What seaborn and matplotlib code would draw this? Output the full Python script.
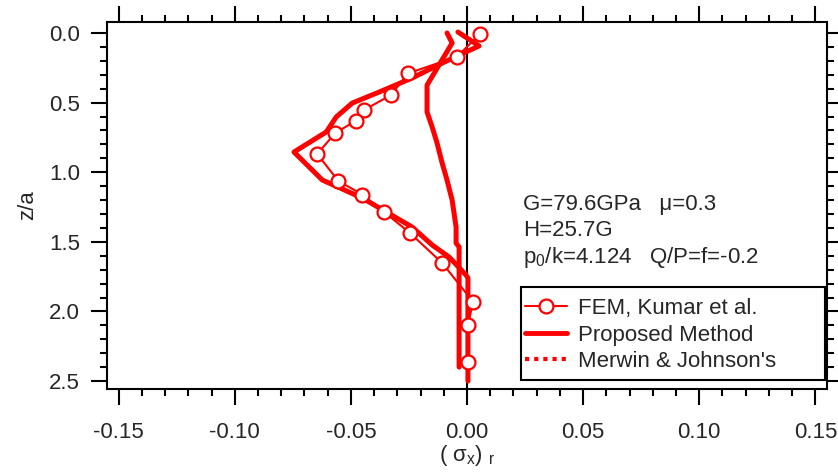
import matplotlib
matplotlib.use("Agg")
import matplotlib.pyplot as plt
from matplotlib.lines import Line2D
from matplotlib.patches import Rectangle
from matplotlib.ticker import MultipleLocator
import seaborn as sns
import pandas as pd

# ---- data ----
fem_x = [0.0056, -0.0043, -0.0254, -0.0327, -0.0443, -0.0480, -0.0567, -0.0645,
         -0.0554, -0.0451, -0.0357, -0.0245, -0.0107, 0.0026, 0.0004, 0.0004]
fem_z = [0.007, 0.17, 0.29, 0.445, 0.553, 0.632, 0.718, 0.869,
         1.063, 1.16, 1.286, 1.437, 1.652, 1.93, 2.10, 2.36]

prop_x = [-0.0039, 0.0052, -0.0107, -0.0236, -0.0378, -0.0494, -0.0563, -0.0606,
          -0.0745, -0.0623, -0.0451, -0.0236, -0.0150, -0.0077, -0.0004, 0.0004, 0.0004]
prop_z = [-0.007, 0.093, 0.216, 0.323, 0.424, 0.503, 0.603, 0.711,
          0.855, 1.056, 1.185, 1.394, 1.523, 1.609, 1.739, 1.76, 2.50]

mj_x = [-0.0086, -0.0064, -0.0172, -0.0172, -0.0150, -0.0129, -0.0107, -0.0086,
        -0.0064, -0.0047, -0.0047, -0.0034, -0.0034]
mj_z = [0.0, 0.072, 0.374, 0.568, 0.675, 0.79, 0.934, 1.056,
        1.2, 1.394, 1.509, 1.537, 2.40]

x_ticks = [-0.15, -0.10, -0.05, 0.00, 0.05, 0.10, 0.15]
y_ticks = [0.0, 0.5, 1.0, 1.5, 2.0, 2.5]
legend_labels = ["FEM, Kumar et al.", "Proposed Method", "Merwin & Johnson's"]
annot_lines = ["G=79.6GPa   \u03bc=0.3", "H=25.7G", "p$_\\mathregular{0}$/k=4.124   Q/P=f=-0.2"]

sns.set_style("ticks")
plt.rcParams["font.family"] = ["Liberation Sans", "DejaVu Sans"]
plt.rcParams["mathtext.fontset"] = "custom"
plt.rcParams["mathtext.rm"] = "Liberation Sans"
plt.rcParams["mathtext.it"] = "Liberation Sans"

RED = "#ff0000"
W, H = 838, 474
fig = plt.figure(figsize=(W / 100, H / 100), dpi=100)
ax = fig.add_axes([107 / W, 1 - 389 / H, 720 / W, 367 / H])

ax.axvline(0, color="black", lw=1.5, zorder=1)

mj = pd.DataFrame({"x": mj_x, "z": mj_z})
sns.lineplot(data=mj, x="x", y="z", sort=False, estimator=None, ax=ax,
             color=RED, lw=3.6, zorder=3)
prop = pd.DataFrame({"x": prop_x, "z": prop_z})
sns.lineplot(data=prop, x="x", y="z", sort=False, estimator=None, ax=ax,
             color=RED, lw=3.6, zorder=3)
fem = pd.DataFrame({"x": fem_x, "z": fem_z})
sns.lineplot(data=fem, x="x", y="z", sort=False, estimator=None, ax=ax,
             color=RED, lw=1.5, marker="o", markersize=10, markerfacecolor="white",
             markeredgecolor=RED, markeredgewidth=1.6, zorder=4)

ax.set_xlim(-0.155, 0.155)
ax.set_ylim(2.557, -0.079)
ax.set_xticks(x_ticks)
ax.set_xticklabels([f"{v:.2f}" for v in x_ticks])
ax.set_yticks(y_ticks)
ax.set_yticklabels([f"{v:.1f}" for v in y_ticks])
ax.xaxis.set_minor_locator(MultipleLocator(0.01))
ax.yaxis.set_minor_locator(MultipleLocator(0.1))
ax.tick_params(which="major", direction="out", length=11.5, width=1.5, color="black",
               labelsize=16, top=True, right=True, bottom=True, left=True)
ax.tick_params(axis="x", which="major", pad=12)
ax.tick_params(axis="y", which="major", pad=8)
ax.tick_params(which="minor", direction="out", length=5, width=1.5, color="black",
               top=True, right=True, bottom=True, left=True)
for s in ax.spines.values():
    s.set_linewidth(1.5)
    s.set_color("black")

ax.set_xlabel("( \u03c3$_\\mathregular{x}$) $_\\mathregular{r}$", fontsize=16, labelpad=0)
ax.set_ylabel("z/a", fontsize=16, labelpad=8)

ys = [205, 231, 258]
for t, yp in zip(annot_lines, ys):
    fig.text(523 / W, 1 - yp / H, t, fontsize=16, va="center", ha="left")

handles = [
    Line2D([], [], color=RED, lw=1.5, marker="o", markersize=10, markerfacecolor="white",
           markeredgecolor=RED, markeredgewidth=1.6),
    Line2D([], [], color=RED, lw=3.5),
    Line2D([], [], color=RED, lw=3, linestyle=(0, (1, 1.2))),
]
leg = ax.legend(handles, legend_labels, loc="upper left",
                bbox_to_anchor=(525 / W, 1 - 298 / H),
                bbox_transform=fig.transFigure, fontsize=16, frameon=False,
                handlelength=1.9, handletextpad=0.5, labelspacing=0.25,
                borderpad=0.0, borderaxespad=0)
fig.patches.append(Rectangle((521 / W, 1 - 380 / H), 304 / W, 93 / H,
                             transform=fig.transFigure, fill=False,
                             edgecolor="black", linewidth=1.5, zorder=5))

fig.savefig("out.png", dpi=100)
